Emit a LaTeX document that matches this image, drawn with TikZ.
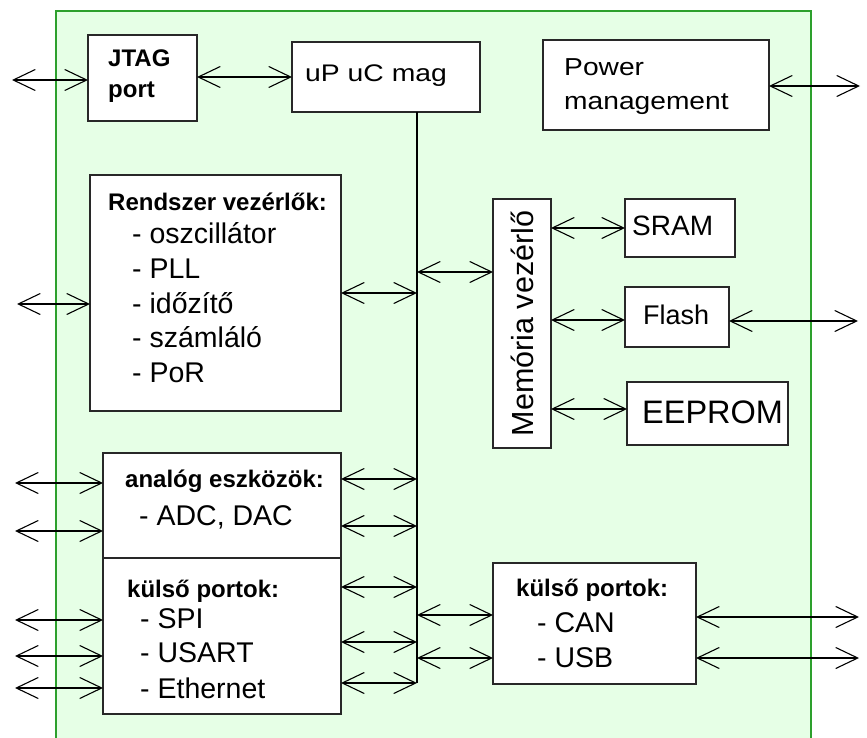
\documentclass[tikz,border=0pt]{standalone}
\usepackage{fontspec}
\usepackage{graphicx}
\setmainfont{Liberation Sans}
\usetikzlibrary{arrows.meta}
\definecolor{bgreen}{RGB}{230,255,230}
\definecolor{lgreen}{RGB}{45,160,45}
\definecolor{boxline}{RGB}{40,40,40}
\begin{document}
\begin{tikzpicture}[x=1pt,y=-1pt,
  box/.style={draw=boxline, line width=1.3pt, fill=white, anchor=north west, inner sep=0pt, outer sep=0pt},
  bi/.style={line width=1.1pt, {Straight Barb[length=22pt,width=21pt]}-{Straight Barb[length=22pt,width=21pt]}},
  hd/.style={anchor=base west, inner sep=0pt, font=\fontsize{24}{28}\selectfont\bfseries},
  it/.style={anchor=base west, inner sep=0pt, font=\fontsize{28.5}{34}\selectfont},
  bus/.style={line width=1.2pt, draw=black}
]
\useasboundingbox (0,0) rectangle (867,738);
% green chip area
\fill[bgreen] (56,11) rectangle (811,738);
\draw[lgreen, line width=1.6pt] (56,738) -- (56,11) -- (811,11) -- (811,738);

% boxes
\node[box, minimum width=109pt, minimum height=86pt] (jtag) at (88,35) {};
\node[box, minimum width=188pt, minimum height=70pt] (up) at (292,42) {};
\node[box, minimum width=226pt, minimum height=90pt] (pwr) at (543,40) {};
\node[box, minimum width=251pt, minimum height=236pt] (rend) at (90,175) {};
\node[box, minimum width=58pt, minimum height=249pt] (mem) at (493,199) {};
\node[box, minimum width=110pt, minimum height=58pt] (sram) at (625,199) {};
\node[box, minimum width=104pt, minimum height=60pt] (flash) at (625,287) {};
\node[box, minimum width=161pt, minimum height=63pt] (eeprom) at (627,382) {};
\node[box, minimum width=238pt, minimum height=105pt] (analog) at (103,453) {};
\node[box, minimum width=238pt, minimum height=156pt] (kulso) at (103,558) {};
\node[box, minimum width=203pt, minimum height=121pt] (kulso2) at (493,563) {};

% texts
\node[hd] (tjtag1) at (108,67) {JTAG};
\node[hd] (tjtag2) at (108,98) {port};
\node[anchor=base west, inner sep=0pt, font=\fontsize{24}{28}\selectfont] (tup) at (305,82) {\scalebox{1.18}[1]{uP uC mag}};
\node[anchor=base west, inner sep=0pt, font=\fontsize{24.5}{28}\selectfont] (tpwr1) at (564,76) {\scalebox{1.15}[1]{Power}};
\node[anchor=base west, inner sep=0pt, font=\fontsize{24.5}{28}\selectfont] (tpwr2) at (564,110) {\scalebox{1.15}[1]{management}};

\node[hd] (tr0) at (108,211) {Rendszer vezérlők:};
\node[it] (tr1) at (132,243) {- oszcillátor};
\node[it] (tr2) at (132,278) {- PLL};
\node[it] (tr3) at (132,313) {- időzítő};
\node[it] (tr4) at (132,347) {- számláló};
\node[it] (tr5) at (132,382) {- PoR};

\node[inner sep=0pt, rotate=90, font=\fontsize{30.5}{34}\selectfont] (tmem) at (mem.center) {Memória vezérlő};
\node[anchor=base west, inner sep=0pt, font=\fontsize{28}{32}\selectfont] (tsram) at (632,235) {SRAM};
\node[anchor=base west, inner sep=0pt, font=\fontsize{27}{32}\selectfont] (tflash) at (643,324) {Flash};
\node[anchor=base west, inner sep=0pt, font=\fontsize{32.5}{36}\selectfont] (teeprom) at (642,423) {EEPROM};

\node[hd] (ta0) at (125,487) {analóg eszközök:};
\node[it] (ta1) at (139,525) {- ADC, DAC};
\node[hd] (tk0) at (127,597) {külső portok:};
\node[it] (tk1) at (140,628) {- SPI};
\node[it] (tk2) at (140,662) {- USART};
\node[it] (tk3) at (140,698) {- Ethernet};

\node[hd] (tc0) at (516,596) {külső portok:};
\node[it] (tc1) at (537,632) {- CAN};
\node[it] (tc2) at (537,667) {- USB};

% bus
\coordinate (busbot) at (417,683);
\draw[bus] (up.south -| busbot) -- (busbot);

% external end points
\coordinate (e1) at (12,80);
\coordinate (e2) at (860,86);
\coordinate (e3) at (17,304);
\coordinate (e4) at (858,321);
\coordinate (e5) at (15,483);
\coordinate (e6) at (15,531);
\coordinate (e7) at (15,620);
\coordinate (e8) at (15,656);
\coordinate (e9) at (15,688);
\coordinate (e10) at (859,617);
\coordinate (e11) at (859,658);
% bus points
\coordinate (b1) at (417,293);
\coordinate (b2) at (417,272);
\coordinate (b3) at (417,479);
\coordinate (b4) at (417,526);
\coordinate (b5) at (417,587);
\coordinate (b6) at (417,642);
\coordinate (b7) at (417,683);
\coordinate (b8) at (417,615);
\coordinate (b9) at (417,658);
\coordinate (m1) at (551,228);
\coordinate (m2) at (551,320);
\coordinate (m3) at (551,409);
\coordinate (j1) at (197,77);

% connectors
\draw[bi] (e1) -- (jtag.west |- e1);
\draw[bi] (j1) -- (up.west |- j1);
\draw[bi] (pwr.east |- e2) -- (e2);
\draw[bi] (e3) -- (rend.west |- e3);
\draw[bi] (rend.east |- b1) -- (b1);
\draw[bi] (b2) -- (mem.west |- b2);
\draw[bi] (m1) -- (sram.west |- m1);
\draw[bi] (m2) -- (flash.west |- m2);
\draw[bi] (flash.east |- e4) -- (e4);
\draw[bi] (m3) -- (eeprom.west |- m3);
\draw[bi] (e5) -- (analog.west |- e5);
\draw[bi] (e6) -- (analog.west |- e6);
\draw[bi] (e7) -- (kulso.west |- e7);
\draw[bi] (e8) -- (kulso.west |- e8);
\draw[bi] (e9) -- (kulso.west |- e9);
\draw[bi] (analog.east |- b3) -- (b3);
\draw[bi] (analog.east |- b4) -- (b4);
\draw[bi] (kulso.east |- b5) -- (b5);
\draw[bi] (kulso.east |- b6) -- (b6);
\draw[bi] (kulso.east |- b7) -- (b7);
\draw[bi] (b8) -- (kulso2.west |- b8);
\draw[bi] (b9) -- (kulso2.west |- b9);
\draw[bi] (kulso2.east |- e10) -- (e10);
\draw[bi] (kulso2.east |- e11) -- (e11);
\end{tikzpicture}
\end{document}
